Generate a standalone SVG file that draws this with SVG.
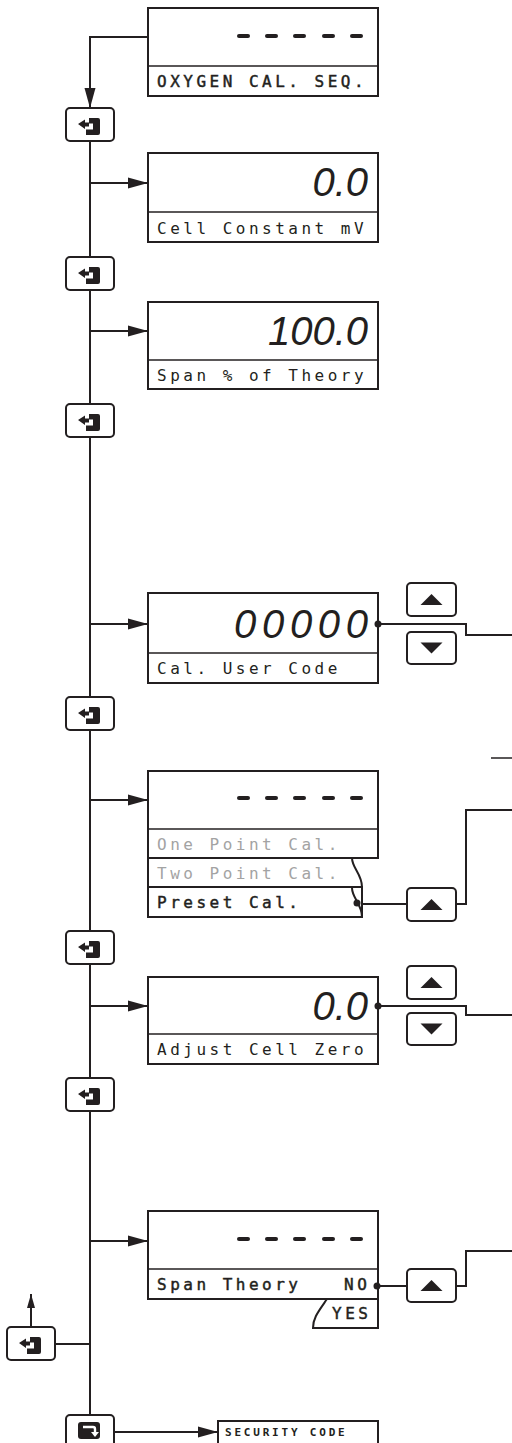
<svg xmlns="http://www.w3.org/2000/svg" width="512" height="1443" viewBox="0 0 512 1443">
<style>
.bx{fill:#fff;stroke:#231f20;stroke-width:2}
.dv{stroke:#231f20;stroke-width:1.5;fill:none}
.ln{stroke:#231f20;stroke-width:2;fill:none}
.key{fill:#fff;stroke:#231f20;stroke-width:2}
.lbl{font-family:"DejaVu Sans Mono",monospace;font-size:16px;letter-spacing:3.5px;fill:#231f20}
.m{stroke:#231f20;stroke-width:0.45}
.b{font-weight:bold}
.gr{fill:#a3a3a3}
.dig{font-family:"Liberation Sans",Arial,sans-serif;font-style:italic;font-size:40px;fill:#231f20}
.dash{stroke:#231f20;stroke-width:4;stroke-linecap:round}
.tri{fill:#231f20}
.dot{fill:#231f20}
</style>
<defs>
<marker id="arr" markerUnits="userSpaceOnUse" markerWidth="21" markerHeight="12" refX="20" refY="6" orient="auto"><path d="M0,0.5 L20,6 L0,11.5 Z" fill="#231f20"/></marker>
<marker id="arrs" markerUnits="userSpaceOnUse" markerWidth="15" markerHeight="9" refX="14" refY="4.5" orient="auto"><path d="M0,0.5 L14,4.5 L0,8.5 Z" fill="#231f20"/></marker>
<g id="enter">
<rect x="0" y="0" width="48" height="33" rx="4" class="key"/>
<path d="M20,10 H32 Q34,10 34,12 V25 Q34,27 32,27 H20 V21.5 H27 V15.5 H23 V10 Z" fill="#231f20"/>
<path d="M12,16 L19,11.5 V14.5 H23 V18.5 H19 V21 Z" fill="#231f20"/>
</g>
<g id="up">
<rect x="0" y="0" width="49" height="33" rx="4" class="key"/>
<path d="M13.5,22 H35.5 L24.5,11 Z" class="tri"/>
</g>
<g id="down">
<rect x="0" y="0" width="49" height="32" rx="4" class="key"/>
<path d="M13.5,10.5 H35.5 L24.5,21.5 Z" class="tri"/>
</g>
</defs>

<g id="connectors">
<path class="ln" d="M148,37 H90 V108" marker-end="url(#arr)"/>
<path class="ln" d="M90,141 V1415"/>
<path class="ln" d="M90,183 H148" marker-end="url(#arr)"/>
<path class="ln" d="M90,331 H148" marker-end="url(#arr)"/>
<path class="ln" d="M90,624 H148" marker-end="url(#arr)"/>
<path class="ln" d="M90,800 H148" marker-end="url(#arr)"/>
<path class="ln" d="M90,1006 H148" marker-end="url(#arr)"/>
<path class="ln" d="M90,1241 H148" marker-end="url(#arr)"/>
<path class="ln" d="M378,624 H466 V635 H512"/>
<path class="ln" d="M357,904 H407"/>
<path class="ln" d="M456,904 H466 V810 H512"/>
<path class="ln" d="M491,758 H512" style="stroke-width:1.5"/>
<path class="ln" d="M378,1006 H466 V1015 H512"/>
<path class="ln" d="M377,1286 H407"/>
<path class="ln" d="M455,1286 H466 V1251 H512"/>
<path class="ln" d="M56,1344 H90"/>
<path class="ln" d="M31,1327 V1294" marker-end="url(#arrs)"/>
<path class="ln" d="M114,1432 H218" marker-end="url(#arr)"/>
</g>

<g id="box1">
<rect class="bx" x="148" y="8" width="230" height="88"/>
<line class="dv" x1="148" y1="66" x2="378" y2="66"/>
<line class="dash" x1="239" y1="36" x2="248" y2="36"/>
<line class="dash" x1="267" y1="36" x2="276" y2="36"/>
<line class="dash" x1="295" y1="36" x2="304" y2="36"/>
<line class="dash" x1="324" y1="36" x2="333" y2="36"/>
<line class="dash" x1="352" y1="36" x2="361" y2="36"/>
<text class="lbl m" x="157" y="87">OXYGEN CAL. SEQ.</text>
</g>

<g id="box2">
<rect class="bx" x="148" y="153" width="230" height="89"/>
<line class="dv" x1="148" y1="212" x2="378" y2="212"/>
<text class="dig" x="368" y="196" text-anchor="end">0.0</text>
<text class="lbl" x="157" y="234">Cell Constant mV</text>
</g>

<g id="box3">
<rect class="bx" x="148" y="302" width="230" height="87"/>
<line class="dv" x1="148" y1="360" x2="378" y2="360"/>
<text class="dig" x="368" y="345" text-anchor="end">100.0</text>
<text class="lbl" x="157" y="381">Span % of Theory</text>
</g>

<g id="box4">
<rect class="bx" x="148" y="593" width="230" height="90"/>
<line class="dv" x1="148" y1="653" x2="378" y2="653"/>
<text class="dig" x="368" y="638" text-anchor="end" textLength="134" lengthAdjust="spacing">00000</text>
<text class="lbl" x="157" y="674">Cal. User Code</text>
</g>

<g id="box5">
<path class="bx" d="M148,858 V917 H362 V887 H148"/>
<path class="ln" d="M352,858 C352,868 362,874 362,887"/>
<path class="ln" d="M352,888 C352,898 362,904 362,917"/>
<rect class="bx" x="148" y="771" width="230" height="87"/>
<line class="dv" x1="148" y1="829" x2="378" y2="829"/>
<line class="dash" x1="239" y1="798" x2="248" y2="798"/>
<line class="dash" x1="267" y1="798" x2="276" y2="798"/>
<line class="dash" x1="295" y1="798" x2="304" y2="798"/>
<line class="dash" x1="324" y1="798" x2="333" y2="798"/>
<line class="dash" x1="352" y1="798" x2="361" y2="798"/>
<text class="lbl gr" x="157" y="850">One Point Cal.</text>
<text class="lbl gr" x="157" y="879">Two Point Cal.</text>
<text class="lbl m" x="157" y="908">Preset Cal.</text>
</g>

<g id="box6">
<rect class="bx" x="148" y="977" width="230" height="87"/>
<line class="dv" x1="148" y1="1034" x2="378" y2="1034"/>
<text class="dig" x="368" y="1020" text-anchor="end">0.0</text>
<text class="lbl" x="157" y="1055">Adjust Cell Zero</text>
</g>

<g id="box7">
<path class="bx" d="M378,1299 V1328 H313 C313,1318 318,1312 327,1299"/>
<rect class="bx" x="148" y="1211" width="230" height="88"/>
<line class="dv" x1="148" y1="1269" x2="378" y2="1269"/>
<line class="dash" x1="239" y1="1239" x2="248" y2="1239"/>
<line class="dash" x1="267" y1="1239" x2="276" y2="1239"/>
<line class="dash" x1="295" y1="1239" x2="304" y2="1239"/>
<line class="dash" x1="324" y1="1239" x2="333" y2="1239"/>
<line class="dash" x1="352" y1="1239" x2="361" y2="1239"/>
<text class="lbl m" x="157" y="1290">Span Theory</text>
<text class="lbl m" x="344" y="1290">NO</text>
<text class="lbl m" x="332" y="1319">YES</text>
</g>

<g id="security">
<rect class="bx" x="218" y="1421" width="160" height="30"/>
<text class="lbl b" x="225" y="1436" style="font-size:11px;letter-spacing:2.8px">SECURITY CODE</text>
</g>

<g id="junctions">
<circle class="dot" cx="378" cy="624" r="3.5"/>
<circle class="dot" cx="357" cy="903" r="3.5"/>
<circle class="dot" cx="378" cy="1006" r="3.5"/>
<circle class="dot" cx="377" cy="1286" r="3.5"/>
</g>

<g id="key1"><use href="#enter" x="66" y="108"/></g>
<g id="key2"><use href="#enter" x="66" y="257"/></g>
<g id="key3"><use href="#enter" x="66" y="404"/></g>
<g id="key4"><use href="#enter" x="66" y="697"/></g>
<g id="key5"><use href="#enter" x="66" y="931"/></g>
<g id="key6"><use href="#enter" x="66" y="1078"/></g>
<g id="keyExit"><use href="#enter" x="7" y="1327"/></g>
<g id="keyReturn">
<rect class="key" x="66" y="1415" width="48" height="40" rx="4"/>
<rect x="78" y="1422" width="22" height="17" rx="3" fill="#231f20"/>
<path d="M83,1427 H93 Q95,1427 95,1429 V1433" stroke="#fff" stroke-width="2.4" fill="none"/>
<path d="M91,1432 H99 L95,1437 Z" fill="#fff"/>
</g>

<g id="btnUp1"><use href="#up" x="407" y="583"/></g>
<g id="btnDown1"><use href="#down" x="407" y="632"/></g>
<g id="btnUp2"><use href="#up" x="407" y="888"/></g>
<g id="btnUp3"><use href="#up" x="407" y="966"/></g>
<g id="btnDown3"><use href="#down" x="407" y="1013"/></g>
<g id="btnUp4"><use href="#up" x="407" y="1269"/></g>
</svg>
